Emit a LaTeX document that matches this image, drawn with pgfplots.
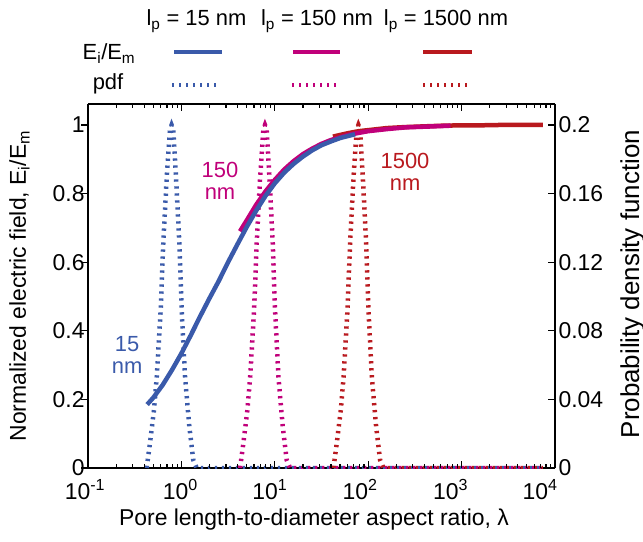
\documentclass[border=0pt]{standalone}
\usepackage{pgfplots}
\pgfplotsset{compat=1.18}
\usepackage{fontspec}
\setmainfont{Liberation Sans}

\definecolor{cblue}{RGB}{58,90,170}
\definecolor{cmag}{RGB}{192,0,122}
\definecolor{cred}{RGB}{185,25,30}

\newcommand{\fs}[1]{\fontsize{#1}{#1}\selectfont}
% tick label of 10^n, moved left by half of #1
\newcommand{\dec}[2]{\kern-#1bp 10\textsuperscript{#2}}

\tikzset{
  eline/.style={line width=4.5bp},
  pline/.style={line width=4.5bp, dash pattern=on 2.3bp off 4.7bp},
  tk/.style={draw=black, line width=1.2bp},
}

\begin{document}
\begin{tikzpicture}
\path[use as bounding box] (-88bp,-74bp) rectangle (555bp,468bp);

% right axis: probability density function
\begin{axis}[
    at={(0,0)}, anchor=south west,
    scale only axis, width=467bp, height=364bp,
    xmode=log, xmin=0.1, xmax=10000,
    ymin=0, ymax=0.21224,
    tickwidth=7bp, subtickwidth=4bp,
    axis line style={line width=1.3bp},
    every tick/.style={draw=black, line width=1.2bp},
    every minor tick/.style={draw=black, line width=1.2bp},
    xmajorticks=true, xminorticks=true, ymajorticks=true,
    tick label style={font=\fs{23}},
    x tick label style={yshift=-8bp},
    axis y line*=right,
    tick align=inside,
    xtick pos=both,
    xticklabel pos=lower,
    xtick={0.1,1,10,100,1000,10000},
    minor xtick={0.2,0.3,0.4,0.5,0.6,0.7,0.8,0.9,
                 2,3,4,5,6,7,8,9,
                 20,30,40,50,60,70,80,90,
                 200,300,400,500,600,700,800,900,
                 2000,3000,4000,5000,6000,7000,8000,9000},
    xticklabels={\dec{6}{-1},\dec{2}{0},\dec{10}{1},\dec{16}{2},\dec{22}{3},\dec{30}{4}},
    ytick={0,0.04,0.08,0.12,0.16,0.2},
    yticklabels={0,0.04,0.08,0.12,0.16,0.2},
    xlabel={Pore length-to-diameter aspect ratio, λ},
    ylabel={Probability density function},
    x label style={at={(axis description cs:0.484,-0.1566)}, anchor=base, font=\fs{23}},
    y label style={at={(axis description cs:1.18,0.505)}, rotate=0, anchor=base, font=\fs{26}},
]
\addplot[cblue, pline] coordinates {
 (0.425,0) (0.461,0.0146) (0.509,0.0338) (0.545,0.0532) (0.600,0.0921)
 (0.640,0.1312) (0.697,0.1699) (0.755,0.1975) (0.785,0.2) (0.818,0.1975)
 (0.875,0.170) (0.951,0.131) (1.007,0.092) (1.094,0.053) (1.216,0.0242)
 (1.340,0.0047) (1.459,0) (7400,0)};
\addplot[cmag, pline] coordinates {
 (4.25,0) (4.61,0.0146) (5.09,0.0338) (5.45,0.0532) (6.00,0.0921)
 (6.40,0.1312) (6.97,0.1699) (7.55,0.1975) (7.85,0.2) (8.18,0.1975)
 (8.75,0.170) (9.51,0.131) (10.07,0.092) (10.94,0.053) (12.16,0.0242)
 (13.40,0.0047) (14.59,0) (7400,0)};
\addplot[cred, pline] coordinates {
 (42.5,0) (46.1,0.0146) (50.9,0.0338) (54.5,0.0532) (60.0,0.0921)
 (64.0,0.1312) (69.7,0.1699) (75.5,0.1975) (78.5,0.2) (81.8,0.1975)
 (87.5,0.170) (95.1,0.131) (100.7,0.092) (109.4,0.053) (121.6,0.0242)
 (134.0,0.0047) (145.9,0) (7400,0)};
\end{axis}

% left axis: normalized electric field
\begin{axis}[
    at={(0,0)}, anchor=south west,
    scale only axis, width=467bp, height=364bp,
    xmode=log, xmin=0.1, xmax=10000,
    ymin=0, ymax=1.0612,
    tickwidth=7bp, subtickwidth=4bp,
    axis line style={line width=1.3bp},
    every tick/.style={draw=black, line width=1.2bp},
    ymajorticks=true,
    tick label style={font=\fs{23}},
    y tick label style={xshift=7bp},
    axis y line*=left,
    axis x line=none,
    tick align=outside,
    ytick={0,0.2,0.4,0.6,0.8,1},
    yticklabels={0,0.2,0.4,0.6,0.8,1},
    ylabel={Normalized electric field, E\textsubscript{i}/E\textsubscript{m}},
    y label style={at={(axis description cs:-0.1328,0.5)}, rotate=0, anchor=base, font=\fs{23}},
]
\addplot[cred, eline] coordinates {
 (42,0.966) (50.1,0.971) (63.1,0.977) (79.4,0.982) (100,0.985) (158,0.991)
 (251,0.994) (398,0.996) (631,0.998) (1000,0.999) (1585,0.999) (2512,1.0)
 (3981,1.0) (7400,1.0)};
\addplot[cmag, eline] coordinates {
 (4.24,0.690) (5.01,0.722) (6.31,0.767) (7.94,0.806) (10,0.840) (12.6,0.870)
 (15.8,0.894) (20,0.915) (25.1,0.931) (31.6,0.945) (39.8,0.956) (50.1,0.964)
 (63.1,0.972) (79.4,0.977) (100,0.982) (158,0.988) (251,0.993) (398,0.995)
 (631,0.997) (760,0.998)};
\addplot[cblue, eline] coordinates {
 (0.43,0.185) (0.5,0.205) (0.63,0.242) (0.79,0.285) (1.0,0.334) (1.26,0.387)
 (1.58,0.441) (2.0,0.495) (2.51,0.545) (3.16,0.600) (3.98,0.652) (5.01,0.703)
 (6.31,0.750) (7.94,0.793) (10,0.830) (12.6,0.861) (15.8,0.886) (20,0.908)
 (25.1,0.926) (31.6,0.941) (39.8,0.952) (50.1,0.962) (63.1,0.969) (72.3,0.973)};

\node[cblue, align=center, font=\fs{22}] at (axis cs:0.262,0.33) {15\\nm};
\node[cmag, align=center, font=\fs{22}] at (axis cs:2.59,0.837) {150\\nm};
\node[cred, align=center, font=\fs{22}] at (axis cs:248,0.863) {1500\\nm};
\end{axis}

% tick marks on the axis box (x: inside, top and bottom; y left: outside; y right: inside)
\foreach \dd in {0,93.4,186.8,280.2,373.6} {
  \foreach \mo in {28.12,44.56,56.23,65.28,72.68,78.93,84.35,89.13} {
    \draw[tk] (\dd bp+\mo bp,0) -- ++(0,4bp);
    \draw[tk] (\dd bp+\mo bp,364bp) -- ++(0,-4bp);
  }
}
\foreach \dd in {93.4,186.8,280.2,373.6} {
  \draw[tk] (\dd bp,0) -- ++(0,7bp);
  \draw[tk] (\dd bp,364bp) -- ++(0,-7bp);
}
\foreach \yy in {0,68.6,137.2,205.8,274.4,343} {
  \draw[tk] (0,\yy bp) -- ++(-7bp,0);
  \draw[tk] (467bp,\yy bp) -- ++(-7bp,0);
}

% legend
\begin{scope}[font=\fs{22}]
\node[anchor=base] at (108.5bp,442bp) {l\textsubscript{p} = 15 nm};
\node[anchor=base] at (229bp,442bp) {l\textsubscript{p} = 150 nm};
\node[anchor=base] at (358bp,442bp) {l\textsubscript{p} = 1500 nm};
\node[anchor=base] at (21bp,408bp) {E\textsubscript{i}/E\textsubscript{m}};
\node[anchor=base] at (20bp,378bp) {pdf};
\end{scope}
\draw[cblue, eline] (86bp,416bp) -- (134bp,416bp);
\draw[cmag, eline] (205bp,416bp) -- (252bp,416bp);
\draw[cred, eline] (335bp,416bp) -- (384bp,416bp);
\draw[cblue, pline] (84bp,383bp) -- (132bp,383bp);
\draw[cmag, pline] (204bp,383bp) -- (250bp,383bp);
\draw[cred, pline] (335bp,383bp) -- (382bp,383bp);
\end{tikzpicture}
\end{document}
